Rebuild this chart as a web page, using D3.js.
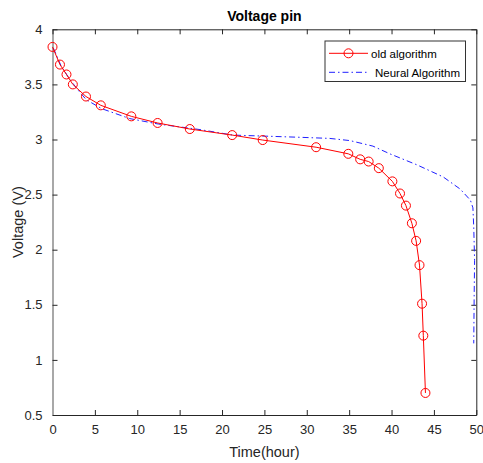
<!DOCTYPE html>
<html>
<head>
<meta charset="utf-8">
<script src="https://cdn.jsdelivr.net/npm/d3@7"></script>
<style>
  body { margin: 0; background: #fff; }
  text { font-family: "Liberation Sans", Arial, sans-serif; }
</style>
</head>
<body>
<svg id="chart" width="483" height="463"></svg>
<script>
// 旧算法的采样点 (时间, 电压)
var oldTime = [0, 0.88, 1.65, 2.4, 3.95, 5.7, 9.3, 12.4, 16.2, 21.2, 24.8, 31.1, 34.9, 36.3, 37.3, 38.5, 40.1, 41.0, 41.7, 42.4, 42.9, 43.3, 43.6, 43.75, 44.0];
var oldVolt = [3.84, 3.68, 3.59, 3.50, 3.39, 3.31, 3.21, 3.15, 3.095, 3.04, 2.995, 2.93, 2.87, 2.82, 2.80, 2.74, 2.62, 2.51, 2.40, 2.24, 2.08, 1.86, 1.51, 1.22, 0.70];

// 神经网络算法
var nnTime = [0.1, 1.0, 2.0, 3.0, 4.0, 5.8, 9.1, 12.5, 17.4, 21.3, 25.3, 29.2, 32.7, 35.1, 37.8, 39.8, 43.0, 46.1, 48.1, 49.3, 49.6, 49.7, 49.8, 49.75, 49.7];
var nnVolt = [3.83, 3.67, 3.55, 3.45, 3.36, 3.28, 3.19, 3.14, 3.09, 3.04, 3.03, 3.02, 3.01, 2.99, 2.94, 2.87, 2.77, 2.66, 2.55, 2.45, 2.38, 2.2, 1.9, 1.6, 1.15];

var xTicks = [0, 5, 10, 15, 20, 25, 30, 35, 40, 45, 50];
var yTicks = [0.5, 1, 1.5, 2, 2.5, 3, 3.5, 4];
var seriesNames = ["old algorithm", "Neural Algorithm"];

var svg = d3.select("#chart");
var pLeft = 52.5, pRight = 476.3, pTop = 29.3, pBottom = 415;

var x = d3.scaleLinear().domain([0, 50]).range([pLeft, pRight]);
var y = d3.scaleLinear().domain([0.5, 4]).range([pBottom, pTop]);

var axisColor = "#262626";

// 边框和刻度
var xAxis = svg.append("g")
    .attr("transform", "translate(0," + pBottom + ")")
    .call(d3.axisBottom(x).tickValues(xTicks).tickSizeInner(-5).tickSizeOuter(0).tickPadding(10).tickFormat(d3.format("d")));
var yAxis = svg.append("g")
    .attr("transform", "translate(" + pLeft + ",0)")
    .call(d3.axisLeft(y).tickValues(yTicks).tickSizeInner(-5).tickSizeOuter(0).tickPadding(10).tickFormat(d3.format("")));
var xTop = svg.append("g")
    .attr("transform", "translate(0," + pTop + ")")
    .call(d3.axisTop(x).tickValues(xTicks).tickSizeInner(-5).tickSizeOuter(0).tickFormat(""));
var yRight = svg.append("g")
    .attr("transform", "translate(" + pRight + ",0)")
    .call(d3.axisRight(y).tickValues(yTicks).tickSizeInner(-5).tickSizeOuter(0).tickFormat(""));

[xAxis, yAxis, xTop, yRight].forEach(function(g){
    g.selectAll("line").attr("stroke", axisColor);
    g.select(".domain").attr("stroke", axisColor);
    g.selectAll("text").attr("fill", axisColor).style("font-size", "13px");
});
// 左边那条轴是灰色的
yAxis.select(".domain").attr("stroke", "#a8a8a8").attr("stroke-width", 2);

// 数据
var oldData = oldTime.map(function(t, i){ return {x: t, y: oldVolt[i]}; });
var nnData = nnTime.map(function(t, i){ return {x: t, y: nnVolt[i]}; });

var line = d3.line()
    .x(function(d){ return x(d.x); })
    .y(function(d){ return y(d.y); });

svg.append("path")
    .datum(nnData)
    .attr("d", line)
    .attr("fill", "none")
    .attr("stroke", "#2020ff")
    .attr("stroke-width", 1)
    .attr("stroke-dasharray", "6,3,1.5,3");

svg.append("path")
    .datum(oldData)
    .attr("d", line)
    .attr("fill", "none")
    .attr("stroke", "#ff0000")
    .attr("stroke-width", 1);

svg.selectAll(".pt")
    .data(oldData)
    .enter()
    .append("circle")
    .attr("class", "pt")
    .attr("cx", function(d){ return x(d.x); })
    .attr("cy", function(d){ return y(d.y); })
    .attr("r", 4.5)
    .attr("fill", "none")
    .attr("stroke", "#ff0000")
    .attr("stroke-width", 1);

// 标题和坐标轴名
svg.append("text")
    .attr("x", (pLeft + pRight) / 2)
    .attr("y", 21)
    .attr("text-anchor", "middle")
    .style("font-size", "14px")
    .style("font-weight", "bold")
    .attr("fill", "#000")
    .text("Voltage pin");

svg.append("text")
    .attr("x", (pLeft + pRight) / 2)
    .attr("y", 457)
    .attr("text-anchor", "middle")
    .style("font-size", "14.5px")
    .attr("fill", axisColor)
    .text("Time(hour)");

svg.append("text")
    .attr("transform", "translate(23," + ((pTop + pBottom) / 2) + ") rotate(-90)")
    .attr("text-anchor", "middle")
    .style("font-size", "14.5px")
    .attr("fill", axisColor)
    .text("Voltage (V)");

// 图例
var lg = svg.append("g");
lg.append("rect")
    .attr("x", 325).attr("y", 41)
    .attr("width", 140.5).attr("height", 40.5)
    .attr("fill", "#fff")
    .attr("stroke", "#333")
    .attr("stroke-width", 1);

lg.append("line")
    .attr("x1", 329).attr("x2", 368).attr("y1", 53.3).attr("y2", 53.3)
    .attr("stroke", "#ff0000");
lg.append("circle")
    .attr("cx", 348.5).attr("cy", 53.3).attr("r", 4.5)
    .attr("fill", "none").attr("stroke", "#ff0000");
lg.append("line")
    .attr("x1", 329).attr("x2", 368).attr("y1", 72.3).attr("y2", 72.3)
    .attr("stroke", "#2020ff")
    .attr("stroke-dasharray", "6,3,1.5,3");

lg.selectAll(".lt")
    .data(seriesNames)
    .enter()
    .append("text")
    .attr("class", "lt")
    .attr("x", function(d, i){ return i == 0 ? 371 : 375; })
    .attr("y", function(d, i){ return i == 0 ? 57.5 : 76.5; })
    .style("font-size", "11.5px")
    .attr("fill", "#000")
    .text(function(d){ return d; });
</script>
</body>
</html>
